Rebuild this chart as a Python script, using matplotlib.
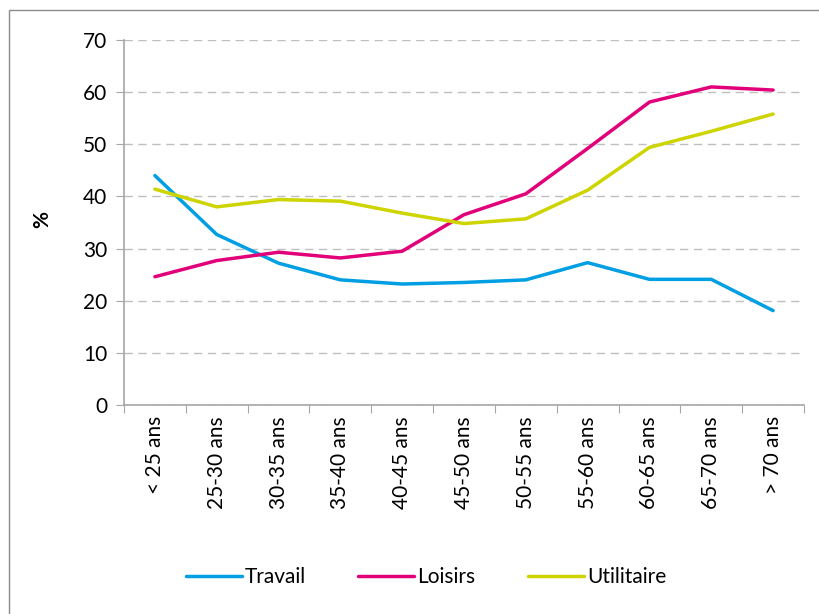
import numpy as np
import matplotlib.pyplot as plt
from matplotlib.patches import Rectangle

plt.rcParams["font.family"] = ["Lato", "DejaVu Sans"]

categories = ["< 25 ans", "25-30 ans", "30-35 ans", "35-40 ans", "40-45 ans",
              "45-50 ans", "50-55 ans", "55-60 ans", "60-65 ans", "65-70 ans",
              "> 70 ans"]
travail = [44.0, 32.7, 27.2, 24.0, 23.2, 23.5, 24.0, 27.3, 24.1, 24.1, 18.1]
loisirs = [24.6, 27.7, 29.3, 28.2, 29.5, 36.5, 40.5, 49.2, 58.1, 61.0, 60.4]
utilitaire = [41.4, 38.0, 39.4, 39.1, 36.8, 34.8, 35.7, 41.2, 49.4, 52.5, 55.8]

series = [
    ("Travail", travail, "#009FE3"),
    ("Loisirs", loisirs, "#E2007A"),
    ("Utilitaire", utilitaire, "#CDD400"),
]

W, H = 820, 614
fig = plt.figure(figsize=(W / 100, H / 100), dpi=100)
ax = fig.add_axes([124 / W, 1 - 405 / H, (804 - 124) / W, (405 - 40) / H])

# outer chart frame (right/bottom edges fall outside the picture)
fig.patches.append(Rectangle((9 / W, -0.1), 1.2, 1 - 10 / H + 0.1,
                             transform=fig.transFigure, fill=False,
                             edgecolor="#8C8C8C", linewidth=1.0))

x = np.arange(len(categories))
for name, vals, color in series:
    ax.plot(x, vals, color=color, linewidth=2.5, label=name,
            solid_joinstyle="miter", solid_capstyle="round")

ax.set_xlim(-0.5, len(categories) - 0.5)
ax.set_ylim(0, 70)
ax.set_yticks(np.arange(0, 71, 10))
ax.yaxis.grid(True, color="#BFBFBF", linestyle=(0, (6, 4)), linewidth=1.0)
ax.set_axisbelow(True)

ax.set_xticks(np.arange(-0.5, len(categories)), labels=[])
ax.set_xticks(x, labels=categories, minor=True, rotation=90)
ax.tick_params(axis="x", which="major", length=6, color="#A6A6A6", direction="out")
ax.tick_params(axis="x", which="minor", length=0, pad=8, labelsize=15)
ax.tick_params(axis="y", length=6, color="#A6A6A6", labelsize=15, pad=6)

for s in ["top", "right"]:
    ax.spines[s].set_visible(False)
for s in ["left", "bottom"]:
    ax.spines[s].set_color("#A6A6A6")
    ax.spines[s].set_linewidth(1.2)

fig.text(42 / W, 1 - 220 / H, "%", rotation=90, fontsize=15, fontweight="bold",
         ha="center", va="center")

handles, labels = ax.get_legend_handles_labels()
fig.legend(handles, labels, loc="center", bbox_to_anchor=(426 / W, 1 - 577 / H),
           ncol=3, frameon=False, fontsize=15, handlelength=2.7,
           handletextpad=0.15, columnspacing=2.5)

fig.savefig("out.png", dpi=100)
